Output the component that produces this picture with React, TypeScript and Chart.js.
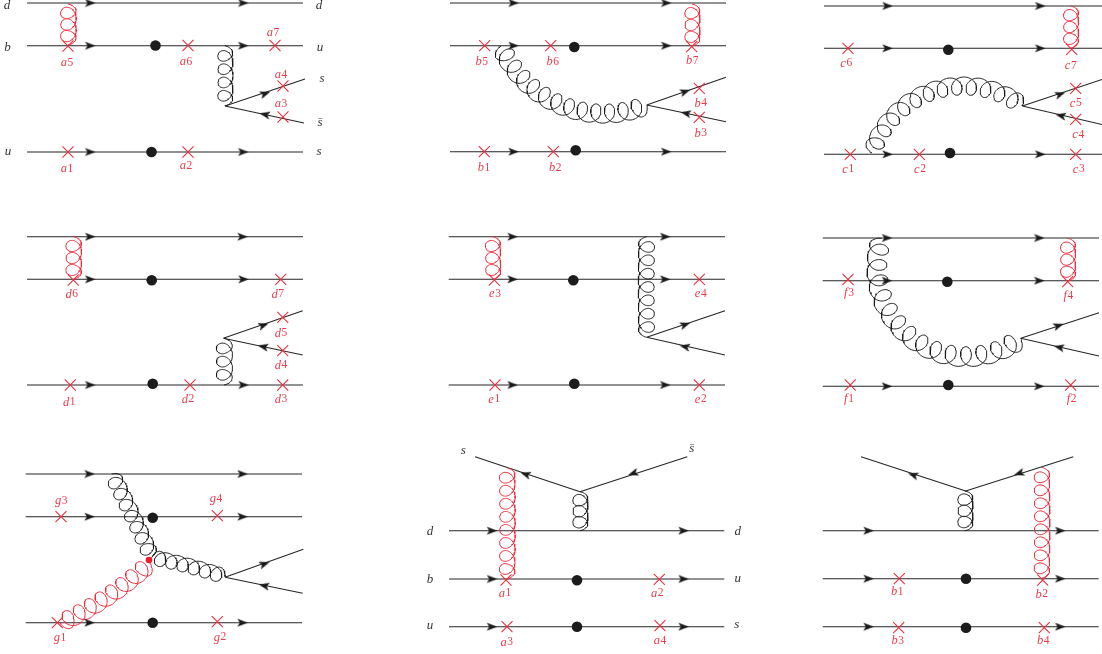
import React, { useEffect, useRef } from "react";
import { Chart, registerables } from "chart.js";

Chart.register(...registerables);

type Seg = [number, number, number, number];
type Mark = [number, number];
type Arrow = [number, number, number];
type Label = [string, number, number];
// start x,y, a point on the arc, end x,y, number of loops, loop width (outer side is away from the arc centre)
type Gluon = [number, number, number, number, number, number, number, number];

const W = 1102;
const H = 654;

const lines: Seg[] = [
  // a
  [27, 3, 303, 3], [27, 45.7, 303, 45.7], [27, 152, 303, 152], [225, 106, 305, 79], [225, 106, 304, 123],
  // b
  [450, 3, 726, 3], [450, 45.7, 726, 45.7], [450, 151.7, 726, 151.7], [646.7, 105, 726, 77.3], [646.7, 105, 726, 121.7],
  // c
  [824, 6, 1102, 6], [824, 48.3, 1102, 48.3], [824, 154.3, 1102, 154.3], [1022.3, 106, 1102, 79.5], [1022.3, 106, 1102, 124.5],
  // d
  [27, 236.7, 303, 236.7], [27, 279.3, 303, 279.3], [27, 385, 303, 385], [223.3, 338.3, 302.7, 310.7], [223.3, 338.3, 302.7, 355],
  // e
  [448.7, 236.7, 725, 236.7], [448.7, 279.3, 725, 279.3], [448.7, 385, 725, 385], [646.7, 337.3, 725, 310.7], [646.7, 337.3, 725, 355],
  // f
  [822.7, 238, 1099, 238], [822.7, 280.7, 1099, 280.7], [822.7, 386.3, 1099, 386.3], [1020.7, 338.3, 1099, 312.7], [1020.7, 338.3, 1099, 356],
  // g
  [25.7, 474, 302, 474], [25.7, 516.7, 302, 516.7], [25.7, 622.7, 302, 622.7], [225, 577.3, 303.3, 549.3], [225, 577.3, 302.7, 593.3],
  // second-row a
  [449, 530.7, 724.3, 530.7], [449, 579, 724.3, 579], [449, 626.7, 724.3, 626.7], [475, 456.7, 580, 491.7], [687.3, 456.7, 580, 491.7],
  // second-row b
  [822.7, 530.7, 1098.7, 530.7], [822.7, 578.7, 1098.7, 578.7], [822.7, 626.7, 1098.7, 626.7], [861, 456.7, 965.7, 491], [1073.3, 456.7, 965.7, 491],
];

const arrowHeads: Arrow[] = [
  [90, 3, 0], [243, 3, 0], [90, 45.7, 0], [243, 45.7, 0], [90, 152, 0], [243, 152, 0], [265, 93.7, -19], [265, 114.5, 192],
  [513.3, 3, 0], [666, 3, 0], [513.3, 45.7, 0], [666, 45.7, 0], [513.3, 151.7, 0], [666, 151.7, 0], [685, 91.7, -19], [686, 113.3, 192],
  [887.3, 6, 0], [1040, 6, 0], [887.3, 48.3, 0], [1040, 48.3, 0], [887.3, 154.3, 0], [1040, 154.3, 0], [1060, 94.3, -19], [1061, 115.7, 192],
  [90, 236.7, 0], [242.3, 236.7, 0], [90, 279.3, 0], [243.3, 279.3, 0], [90, 385, 0], [243.3, 385, 0], [263.3, 325.3, -19], [263.3, 346.7, 192],
  [512.3, 236.7, 0], [665, 236.7, 0], [512.3, 279.3, 0], [665, 279.3, 0], [512.3, 385, 0], [665, 385, 0], [685, 324.7, -19], [685, 346.7, 192],
  [886.7, 238, 0], [1039, 238, 0], [886.7, 280.7, 0], [1039, 280.7, 0], [886.7, 386.3, 0], [1039, 386.3, 0], [1058.3, 325.7, -19], [1059.3, 347.3, 192],
  [89.3, 474, 0], [242.3, 474, 0], [89.3, 516.7, 0], [242.3, 516.7, 0], [89.3, 622.7, 0], [242.3, 622.7, 0], [264.3, 564, -19], [264.3, 585.7, 192],
  [491.7, 530.7, 0], [683.3, 530.7, 0], [491.7, 579, 0], [683.3, 579, 0], [491.7, 626.7, 0], [683.3, 626.7, 0], [525.7, 474.3, 198], [633.3, 473.3, 162],
  [868.3, 530.7, 0], [1060, 530.7, 0], [868.3, 578.7, 0], [1060, 578.7, 0], [868.3, 626.7, 0], [1060, 626.7, 0], [913.3, 475, 198], [1019.3, 473.3, 162],
];

const crosses: Mark[] = [
  [68, 46], [188, 45.5], [275, 45.5], [283, 86], [283, 117], [68, 152], [188, 152],
  [484.7, 45.7], [550.7, 45.7], [691.7, 46.7], [699.3, 88.3], [699.3, 117.3], [484.3, 151.7], [553.3, 151.7],
  [848, 48.3], [1071.7, 49.3], [1075.7, 88.3], [1075.7, 119.3], [850.3, 154.3], [919.3, 154.3], [1075.7, 154.3],
  [73.3, 280], [280.7, 279.3], [282.7, 317.3], [282.7, 350.7], [70.3, 385], [190, 385], [282.7, 385],
  [494.3, 280], [699.3, 279.3], [495, 385], [699.3, 385],
  [848, 279.3], [1067.7, 281.7], [850.3, 385], [1070.7, 385],
  [61, 516.7], [217.3, 515.7], [57.3, 622.7], [217.3, 621.7],
  [506, 580], [659.3, 579.3], [507, 626.7], [660, 625.7],
  [899.3, 578.7], [1042.7, 580], [898.7, 627.7], [1044.3, 627.7],
];

const blobs: Mark[] = [
  [155.5, 45.5], [151.5, 152], [574.3, 47], [575.7, 150.3], [948.3, 49.7], [950, 153],
  [151.7, 280.3], [152.7, 383.7], [573.3, 280.3], [574.3, 383.7], [947.3, 281.7], [948.3, 385],
  [152.7, 517.7], [152.7, 622.7], [577, 580.3], [577, 626.7], [966, 578.7], [966, 627.7],
];

const redBlobs: Mark[] = [[149, 560]];

const redLabels: Label[] = [
  ["a5", 67, 63], ["a6", 186, 62], ["a7", 273, 33], ["a4", 281, 75], ["a3", 281, 104], ["a1", 67, 169], ["a2", 186, 166],
  ["b5", 481.7, 61.7], ["b6", 552.7, 61.7], ["b7", 692.3, 61], ["b4", 700.7, 103.3], ["b3", 700.7, 133.3], ["b1", 484, 167.7], ["b2", 555.3, 167.7],
  ["c6", 846.3, 63.3], ["c7", 1070.7, 65.7], ["c5", 1075.7, 103.3], ["c4", 1078.3, 135], ["c1", 848.3, 169.3], ["c2", 920, 169.3], ["c3", 1078.7, 169.3],
  ["d6", 71.7, 294.3], ["d7", 277.7, 294.3], ["d5", 281, 333.3], ["d4", 281, 365.3], ["d1", 69.3, 402.3], ["d2", 188, 399.3], ["d3", 281, 399.3],
  ["e3", 495, 294], ["e4", 700.7, 294], ["e1", 494.3, 399.3], ["e2", 700.7, 399.3],
  ["f3", 849, 292.7], ["f4", 1068.3, 296], ["f1", 849, 399], ["f2", 1071.7, 399],
  ["g3", 61.3, 501], ["g4", 216, 498.7], ["g1", 60, 637.7], ["g2", 220, 637.3],
  ["a1", 505, 593.3], ["a2", 657.3, 593.3], ["a3", 506.7, 642.3], ["a4", 660, 640.7],
  ["b1", 897.3, 591.7], ["b2", 1041.7, 594.3], ["b3", 897.7, 641], ["b4", 1043.3, 641],
];

const darkLabels: Label[] = [
  ["d", 7, 6], ["d", 319, 6], ["b", 7.5, 47.5], ["u", 320, 48], ["s", 322, 78.7], ["s\u0304", 320, 122.5], ["u", 8, 152], ["s", 319, 152],
  ["s", 463.3, 450.7], ["s\u0304", 691.7, 448.3], ["d", 430, 531.7], ["d", 737.7, 531.7], ["b", 430, 580], ["u", 737.7, 579], ["u", 430, 625.7], ["s", 736.7, 625],
];

const blackGluons: Gluon[] = [
  [225, 45.7, 225.5, 76, 225, 106, 4, 15],
  [501, 46, 598, 113.5, 647, 105, 12, 19],
  [872, 153, 963, 86, 1022.3, 106, 12, 18],
  [224, 385, 224.5, 362, 224, 338.3, 3, 16],
  [646.7, 236.7, 646.2, 287, 646.7, 337.3, 7, 16],
  [881.7, 238.3, 966.7, 356.7, 1020.7, 338.3, 14, 20],
  [111.7, 474, 132, 515, 151.7, 557.3, 7, 16],
  [151.7, 557.3, 189, 566, 225, 576.7, 6, 15],
  [580, 491.7, 580.5, 511, 580, 530.7, 3, 15],
  [965, 491, 965.5, 511, 965, 530.7, 3, 15],
];

const redGluons: Gluon[] = [
  [68, 4, 68.5, 25, 68, 45, 3, 15.5],
  [692, 4, 692.5, 25, 692, 46, 3, 15],
  [1070.7, 6, 1071.2, 27, 1070.7, 48, 3, 15],
  [73.3, 236.7, 73.8, 258, 73.3, 279.3, 3, 15.5],
  [492.5, 236.7, 493.2, 258, 493, 279.3, 3, 15],
  [1067.7, 238.3, 1068.2, 260, 1067.7, 281, 3, 15],
  [60, 623.3, 107, 597, 150, 563, 8, 18],
  [507, 467.7, 507.5, 523, 507, 579, 8, 15.5],
  [1041.7, 467.3, 1042.2, 523, 1041.7, 578.3, 8, 15.5],
];

const END_R = 4.3;

// Curl shape of a gluon laid along a circular arc through its three anchor points.
function curl(g: Gluon) {
  const [x0, y0, mx, my, x1, y1, n, width] = g;
  const d = 2 * (x0 * (my - y1) + mx * (y1 - y0) + x1 * (y0 - my));
  const s0 = x0 * x0 + y0 * y0;
  const sm = mx * mx + my * my;
  const s1 = x1 * x1 + y1 * y1;
  const cx = (s0 * (my - y1) + sm * (y1 - y0) + s1 * (y0 - my)) / d;
  const cy = (s0 * (x1 - mx) + sm * (x0 - x1) + s1 * (mx - x0)) / d;
  const rad = Math.hypot(x0 - cx, y0 - cy);
  const a0 = Math.atan2(y0 - cy, x0 - cx);
  const am = Math.atan2(my - cy, mx - cx);
  const a1 = Math.atan2(y1 - cy, x1 - cx);
  const TAU = Math.PI * 2;
  const cw = ((am - a0 + TAU) % TAU) < ((a1 - a0 + TAU) % TAU);
  const sweep = cw ? (a1 - a0 + TAU) % TAU : -((a0 - a1 + TAU) % TAU);
  const L = Math.abs(sweep) * rad;
  // loop pitch and loop depth depend on one another, so settle them together
  let loopR = 8;
  let p = 13;
  for (let k = 0; k < 6; k++) {
    p = (L - 4 * END_R + 2 * loopR) / (n + 0.5);
    loopR = Math.max(8.4, 2.6 + 0.415 * p);
  }
  const phiEnd = TAU * n + Math.PI / 2;
  const pts: { x: number; y: number }[] = [];
  const steps = Math.round((n + 0.5) * 48);
  for (let i = 0; i <= steps; i++) {
    const phi = -Math.PI / 2 + ((phiEnd + Math.PI / 2) * i) / steps;
    let u: number;
    if (phi < Math.PI / 2) {
      u = (p * (phi + Math.PI / 2)) / TAU + END_R * (Math.sin(phi) + 1);
    } else if (phi <= TAU * n - Math.PI / 2) {
      u = p / 2 + 2 * END_R + (p * (phi - Math.PI / 2)) / TAU + loopR * (Math.sin(phi) - 1);
    } else {
      const ps = TAU * n - Math.PI / 2;
      const us = p / 2 + 2 * END_R + (p * (ps - Math.PI / 2)) / TAU - 2 * loopR;
      u = us + (p * (phi - ps)) / TAU + END_R * (Math.sin(phi) + 1);
    }
    const ang = a0 + (u / L) * sweep;
    const r = rad + (width / 2) * Math.cos(phi);
    pts.push({ x: cx + r * Math.cos(ang), y: cy + r * Math.sin(ang) });
  }
  return pts;
}

function joined(parts: { x: number; y: number }[][]) {
  const out: { x: number; y: number }[] = [];
  parts.forEach((part) => {
    out.push(...part);
    out.push({ x: NaN, y: NaN });
  });
  return out;
}

function makeHead() {
  const c = document.createElement("canvas");
  c.width = 13;
  c.height = 11;
  const g = c.getContext("2d")!;
  g.fillStyle = "#1a1a1a";
  g.beginPath();
  g.moveTo(12, 5.5);
  g.lineTo(1.5, 1.4);
  g.lineTo(4, 5.5);
  g.lineTo(1.5, 9.6);
  g.closePath();
  g.fill();
  return c;
}

const RED = "#ee2b3b";

const textPlugin = {
  id: "feynText",
  afterDatasetsDraw(chart: any) {
    const { ctx, scales } = chart;
    ctx.save();
    ctx.textBaseline = "middle";
    ctx.textAlign = "left";
    const letterFont = 'italic 12.5px "Liberation Serif"';
    const digitFont = '11.5px "Liberation Serif"';
    redLabels.forEach(([t, x, y]) => {
      const px = scales.x.getPixelForValue(x);
      const py = scales.y.getPixelForValue(y);
      ctx.fillStyle = "#ee3b4b";
      ctx.font = letterFont;
      const a = t.slice(0, 1);
      const wa = ctx.measureText(a).width + 0.6;
      ctx.font = digitFont;
      const b = t.slice(1);
      const wb = ctx.measureText(b).width;
      const start = px - (wa + wb) / 2;
      ctx.font = letterFont;
      ctx.fillText(a, start, py);
      ctx.font = digitFont;
      ctx.fillText(b, start + wa, py);
    });
    ctx.fillStyle = "#333333";
    ctx.font = 'italic 13px "Liberation Serif"';
    ctx.textAlign = "center";
    darkLabels.forEach(([t, x, y]) => {
      ctx.fillText(t, scales.x.getPixelForValue(x), scales.y.getPixelForValue(y));
    });
    ctx.restore();
  },
};

export default function App() {
  const ref = useRef<HTMLCanvasElement>(null);
  useEffect(() => {
    const head = makeHead();
    const lineData = joined(lines.map(([a, b, c, d]) => [{ x: a, y: b }, { x: c, y: d }]));
    const chart = new Chart(ref.current!, {
      type: "scatter",
      data: {
        datasets: [
          {
            label: "quark lines",
            data: lineData,
            showLine: true,
            spanGaps: false,
            borderColor: "#262626",
            borderWidth: 1.1,
            pointRadius: 0,
            order: 5,
          },
          {
            label: "gluons",
            data: joined(blackGluons.map(curl)),
            showLine: true,
            spanGaps: false,
            borderColor: "#1a1a1a",
            borderWidth: 0.95,
            pointRadius: 0,
            order: 4,
          },
          {
            label: "red gluons",
            data: joined(redGluons.map(curl)),
            showLine: true,
            spanGaps: false,
            borderColor: RED,
            borderWidth: 1,
            pointRadius: 0,
            order: 3,
          },
          {
            label: "arrows",
            data: arrowHeads.map(([x, y]) => ({ x, y })),
            pointStyle: head,
            rotation: arrowHeads.map((a) => a[2]),
            pointRadius: 6,
            order: 2,
          },
          {
            label: "vertices",
            data: blobs.map(([x, y]) => ({ x, y })),
            pointStyle: "circle",
            pointRadius: 5.3,
            pointBackgroundColor: "#1c1c1c",
            pointBorderColor: "#1c1c1c",
            pointBorderWidth: 0,
            order: 2,
          },
          {
            label: "crosses",
            data: crosses.map(([x, y]) => ({ x, y })),
            pointStyle: "crossRot",
            pointRadius: 7.8,
            pointBorderColor: RED,
            pointBorderWidth: 1.05,
            order: 1,
          },
          {
            label: "red vertex",
            data: redBlobs.map(([x, y]) => ({ x, y })),
            pointStyle: "circle",
            pointRadius: 3.3,
            pointBackgroundColor: "#ee1c2e",
            pointBorderWidth: 0,
            order: 0,
          },
        ],
      } as any,
      options: {
        animation: false,
        responsive: false,
        maintainAspectRatio: false,
        layout: { padding: 0, autoPadding: false },
        scales: {
          x: { type: "linear", min: 0, max: W, display: false },
          y: { type: "linear", min: 0, max: H, reverse: true, display: false },
        },
        plugins: { legend: { display: false }, tooltip: { enabled: false } },
        events: [],
      },
      plugins: [textPlugin],
    });
    return () => chart.destroy();
  }, []);
  return (
    <div style={{ position: "absolute", left: 0, top: 0, width: W, height: H, background: "#fff" }}>
      <canvas ref={ref} width={W} height={H} style={{ display: "block" }} />
    </div>
  );
}
